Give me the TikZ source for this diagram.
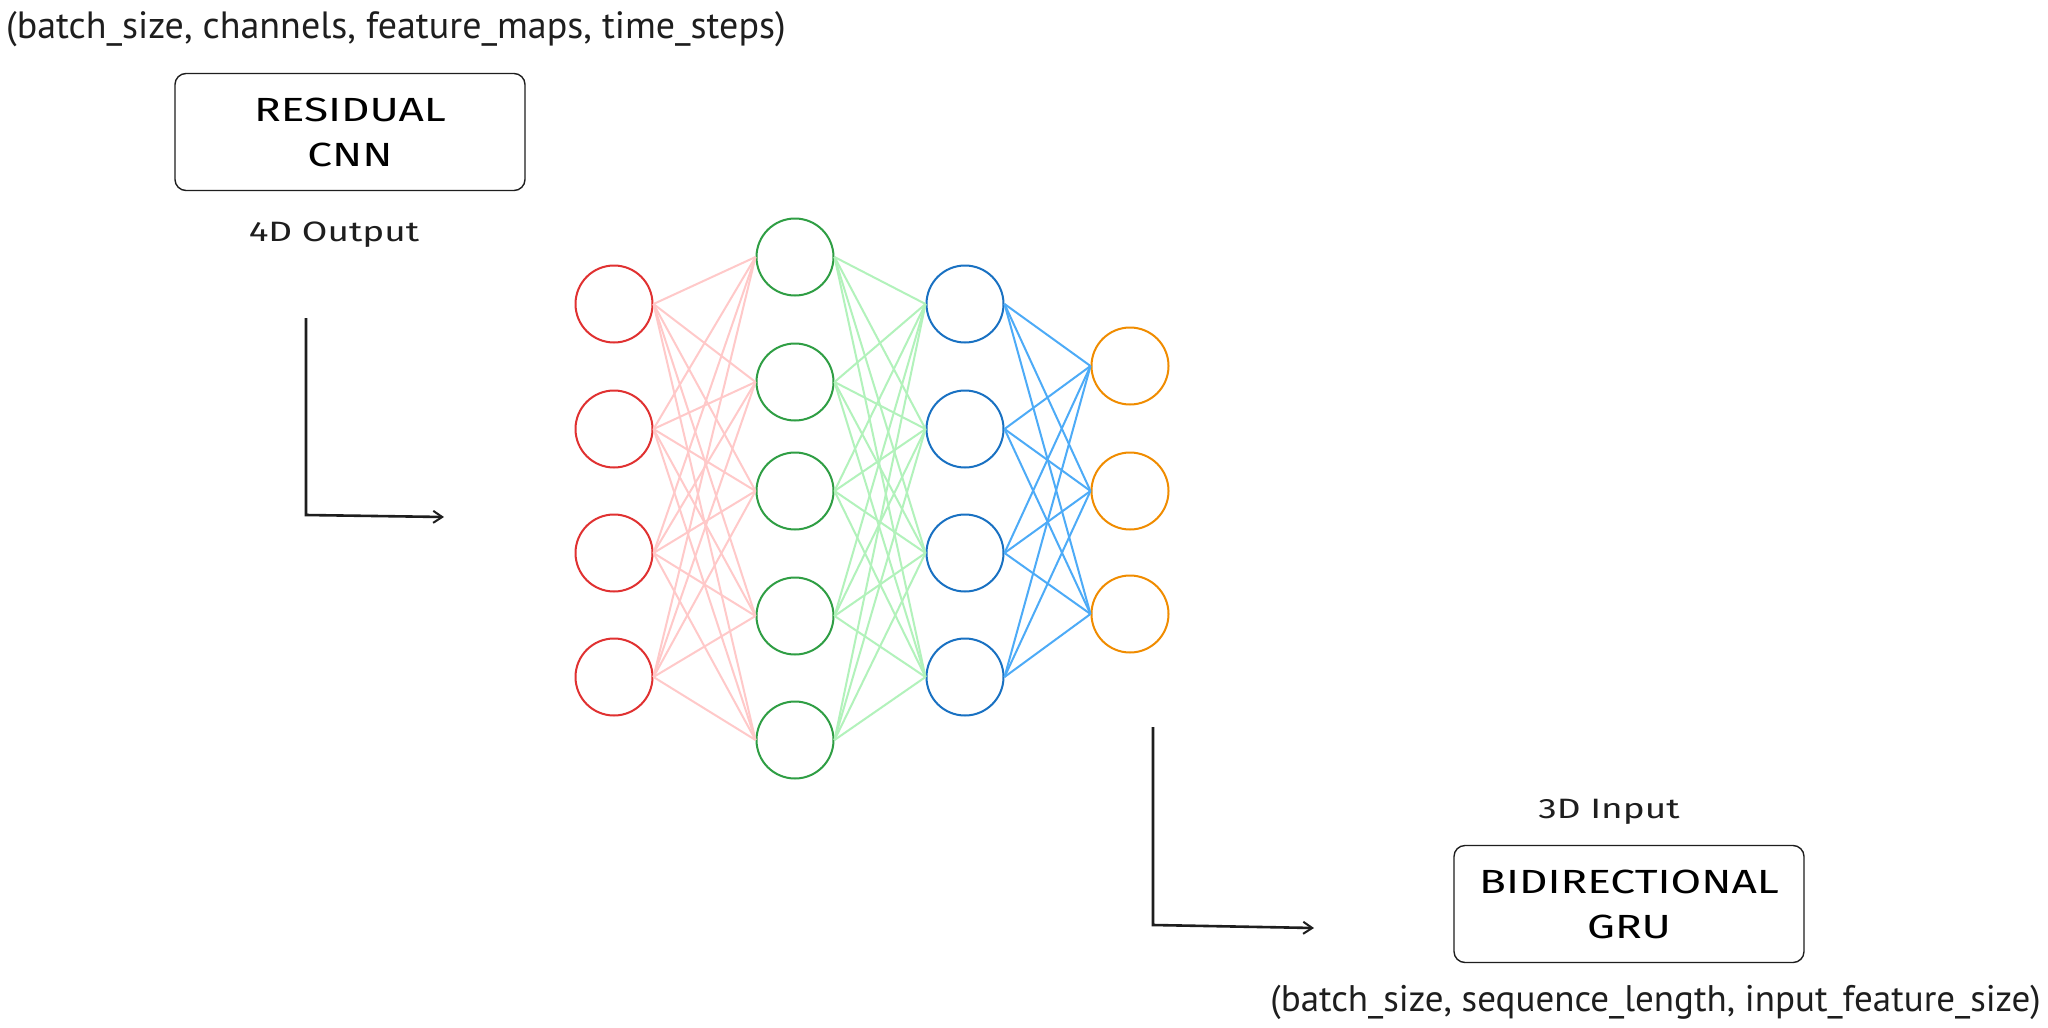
\documentclass[tikz,border=0pt]{standalone}
\usepackage{fontspec}
\setmainfont{PT Sans}
\newfontfamily\handfont[FakeStretch=1.32]{Fira Sans}
\usetikzlibrary{arrows.meta}
\definecolor{cred}{HTML}{E03131}
\definecolor{cgreen}{HTML}{2F9E44}
\definecolor{cblue}{HTML}{1971C2}
\definecolor{corange}{HTML}{F08C00}
\definecolor{epink}{HTML}{FFC9C9}
\definecolor{egreen}{HTML}{B2F2BB}
\definecolor{eblue}{HTML}{4DABF7}
\definecolor{ink}{HTML}{1E1E1E}
\begin{document}
\begin{tikzpicture}[x=1pt,y=-1pt,
  neuron/.style={circle, draw, line width=2pt, minimum size=77pt, inner sep=0pt},
  layerbox/.style={draw=ink, line width=1.4pt, rounded corners=11pt, minimum width=350pt, minimum height=117pt, align=center, inner sep=0pt,
     font=\handfont\fontsize{33.5}{45}\selectfont},
  handlab/.style={font=\handfont\fontsize{28}{32}\selectfont, text=ink, inner sep=0pt},
  shapelab/.style={font=\fontsize{38}{42}\selectfont, text=ink, inner sep=0pt},
  edgepink/.style={draw=epink, line width=2pt},
  edgegreen/.style={draw=egreen, line width=2pt},
  edgeblue/.style={draw=eblue, line width=2pt},
  flow/.style={draw=ink, line width=2.6pt, -{Straight Barb[length=9pt,width=12pt,line width=2pt]}}]
\useasboundingbox (0,0) rectangle (2048,1028);
\fill[white] (0,0) rectangle (2048,1028);

% texts and boxes
\node[shapelab, anchor=west] (inshape) at (6,29) {(batch\_size, channels, feature\_maps, time\_steps)};
\node[layerbox] (cnn) at (350,132) {RESIDUAL\\CNN};
\node[handlab] (out4d) at (334,235) {4D Output};
\node[handlab] (in3d) at (1609,812) {3D Input};
\node[layerbox] (gru) at (1629,904) {BIDIRECTIONAL\\GRU};
\node[shapelab, anchor=east, font=\fontsize{37}{42}\selectfont] (outshape) at (2041,1002) {(batch\_size, sequence\_length, input\_feature\_size)};

% neurons
\foreach \i/\y in {1/304,2/429,3/553,4/677} \node[neuron, draw=cred] (r\i) at (614,\y) {};
\foreach \i/\y in {1/257,2/382,3/491,4/616,5/740} \node[neuron, draw=cgreen] (g\i) at (795,\y) {};
\foreach \i/\y in {1/304,2/429,3/553,4/677} \node[neuron, draw=cblue] (b\i) at (965,\y) {};
\foreach \i/\y in {1/366,2/491,3/614} \node[neuron, draw=corange] (o\i) at (1130,\y) {};

% connections
\foreach \a in {1,...,4} \foreach \b in {1,...,5} \draw[edgepink] (r\a.east) -- (g\b.west);
\foreach \a in {1,...,5} \foreach \b in {1,...,4} \draw[edgegreen] (g\a.east) -- (b\b.west);
\foreach \a in {1,...,4} \foreach \b in {1,...,3} \draw[edgeblue] (b\a.east) -- (o\b.west);

% L-shaped arrows
\coordinate (l1top) at (306,318);
\coordinate (l1corner) at (306,515);
\coordinate (l1end) at (444,517);
\draw[flow] (l1top) -- (l1corner) -- (l1end);
\coordinate (l2top) at (1153,727);
\coordinate (l2corner) at (1153,925);
\coordinate (l2end) at (1314,928);
\draw[flow] (l2top) -- (l2corner) -- (l2end);
\end{tikzpicture}
\end{document}
